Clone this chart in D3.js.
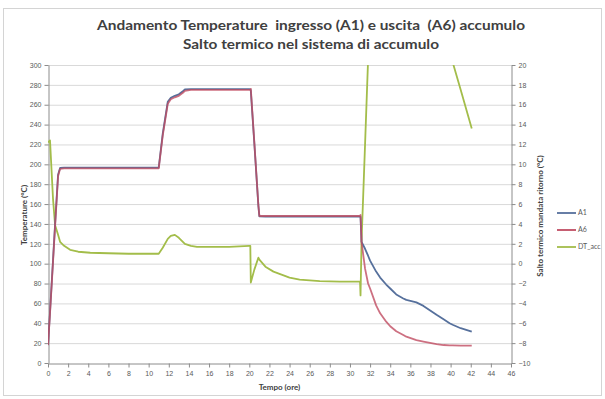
<!DOCTYPE html>
<html>
<head>
<meta charset="utf-8">
<script src="https://cdn.jsdelivr.net/npm/d3@7"></script>
<style>
  html, body { margin: 0; padding: 0; background: #fff; }
  svg { display: block; font-family: "Lato", "Open Sans", sans-serif; }
  .title text { white-space: pre; }
</style>
</head>
<body>
<svg id="chart" width="605" height="399"></svg>
<script>
// Sampling times (hours) shared by all three series
const hours = [0, 0.2, 0.5, 0.7, 1.0, 1.2, 1.6, 2.2, 3, 4.2, 6, 8, 10, 11.0, 11.4, 11.9, 12.2, 12.6, 13.0, 13.4, 13.6, 14.2, 14.8, 16, 18, 20.0, 20.1, 20.15, 20.5, 20.9, 21.0, 21.6, 22.4, 23.2, 24.0, 25.0, 27, 29, 31.0, 31.05, 31.15, 31.5, 31.8, 32.0, 32.6, 33.0, 33.6, 34.0, 34.6, 35.3, 35.6, 36.6, 37.3, 38.6, 39.3, 39.9, 40.2, 41.0, 42.1];

// Inlet temperature A1 (°C)
const a1 = [18, 51.5, 104, 139, 189.5, 196.3, 196.6, 196.6, 196.6, 196.6, 196.6, 196.6, 196.6, 196.6, 231, 263, 267, 269, 270.5, 273.5, 275.5, 275.7, 275.7, 275.7, 275.7, 275.7, 275.5, 274, 221, 158.5, 147.6, 147.5, 147.5, 147.5, 147.5, 147.5, 147.5, 147.5, 147.5, 147, 122, 115, 108, 103, 92, 86, 79, 75, 69, 65, 63.5, 61, 57.5, 48.5, 44, 40, 38.5, 35, 31.5];

// Outlet temperature A6 (°C)
const a6 = [18, 50, 102, 137, 188, 195.5, 196, 196, 196, 196, 196, 196, 196, 196, 229, 261, 265.5, 267.5, 269, 272, 274, 275, 275, 275, 275, 275, 275, 276, 222, 159, 148, 148, 148, 148, 148, 148, 148, 148, 148, 149, 122, 95, 80, 75, 58, 50, 41.6, 37, 32, 28.2, 26.5, 23, 21.5, 19, 18.1, 17.8, 17.7, 17.5, 17.4];

// Temperature difference across the storage, DT_acc (°C, secondary axis)
const dtAcc = [12.2, 12.4, 6.5, 3.9, 2.9, 2.2, 1.8, 1.4, 1.2, 1.1, 1.05, 1.0, 1.0, 1.0, 1.6, 2.5, 2.8, 2.9, 2.6, 2.2, 2.0, 1.8, 1.7, 1.7, 1.7, 1.8, 1.8, -1.9, -0.6, 0.6, 0.4, -0.3, -0.8, -1.1, -1.4, -1.6, -1.75, -1.8, -1.8, -3.2, 2.2, 12, 20.5, 24, 31, 34, 37, 38, 37.5, 37, 36.5, 34, 33, 29, 25.5, 22, 20.3, 17.5, 13.6];

// Axis tick values
const xTicks = d3.range(0, 47, 2);
const leftTicks = d3.range(0, 301, 20);
const rightTicks = d3.range(-10, 21, 2);

const seriesNames = ["A1", "A6", "DT_acc"];
const seriesColors = ["#56709c", "#c04c62", "#a3bd4a"];

const svg = d3.select("#chart");

// chart area frame
svg.append("rect")
  .attr("x", 3.5).attr("y", 8.5).attr("width", 598).attr("height", 387)
  .attr("fill", "#fff").attr("stroke", "#d4d4d4");

const plot = { left: 48, right: 511, top: 65, bottom: 363 };

const x = d3.scaleLinear().domain([0, 46]).range([plot.left, plot.right]);
const yL = d3.scaleLinear().domain([0, 300]).range([plot.bottom, plot.top]);
const yR = d3.scaleLinear().domain([-10, 20]).range([plot.bottom, plot.top]);

// horizontal gridlines
svg.append("g")
  .selectAll("line")
  .data(leftTicks.filter(d => d > 0))
  .join("line")
  .attr("x1", plot.left).attr("x2", plot.right)
  .attr("y1", d => yL(d) + 0.5).attr("y2", d => yL(d) + 0.5)
  .attr("stroke", "#d9d9d9").attr("stroke-width", 1);

// axes
function styleAxis(g) {
  g.selectAll("path.domain").attr("stroke", "#8c8c8c");
  g.selectAll(".tick line").attr("stroke", "#8c8c8c");
  g.selectAll("text").attr("fill", "#595959").attr("font-size", 7);
}

svg.append("g")
  .attr("transform", `translate(${plot.left + 0.5},0)`)
  .call(d3.axisLeft(yL).tickValues(leftTicks).tickSize(4).tickSizeOuter(0).tickPadding(3))
  .call(styleAxis);

svg.append("g")
  .attr("transform", `translate(${plot.right + 0.5},0)`)
  .call(d3.axisRight(yR).tickValues(rightTicks).tickSize(4).tickSizeOuter(0).tickPadding(3))
  .call(styleAxis);

svg.append("g")
  .attr("transform", `translate(0,${plot.bottom + 0.5})`)
  .call(d3.axisBottom(x).tickValues(xTicks).tickSize(4).tickSizeOuter(0).tickPadding(4))
  .call(styleAxis);

// clip the series to the plot area
svg.append("clipPath").attr("id", "plotClip")
  .append("rect")
  .attr("x", plot.left).attr("y", plot.top)
  .attr("width", plot.right - plot.left).attr("height", plot.bottom - plot.top);

const lines = svg.append("g").attr("clip-path", "url(#plotClip)");

const lineLeft = d3.line().x((d, i) => x(hours[i])).y(d => yL(d));
const lineRight = d3.line().x((d, i) => x(hours[i])).y(d => yR(d));

lines.append("path").datum(dtAcc)
  .attr("d", lineRight).attr("fill", "none")
  .attr("stroke", seriesColors[2]).attr("stroke-width", 1.8).attr("stroke-linejoin", "round");

lines.append("path").datum(a1)
  .attr("d", lineLeft).attr("fill", "none")
  .attr("stroke", seriesColors[0]).attr("stroke-width", 1.8).attr("stroke-linejoin", "round");

lines.append("path").datum(a6)
  .attr("d", lineLeft).attr("fill", "none")
  .attr("stroke", seriesColors[1]).attr("stroke-width", 1.8).attr("stroke-linejoin", "round")
  .attr("stroke-opacity", 0.8);

// titles
const title = svg.append("g").attr("class", "title")
  .attr("font-weight", "bold").attr("fill", "#404040")
  .attr("text-anchor", "middle");
title.append("text").attr("x", 311).attr("y", 30).attr("font-size", 13)
  .attr("textLength", 428).attr("lengthAdjust", "spacingAndGlyphs")
  .text("Andamento Temperature  ingresso (A1) e uscita  (A6) accumulo");
title.append("text").attr("x", 311).attr("y", 49).attr("font-size", 13)
  .attr("textLength", 256).attr("lengthAdjust", "spacingAndGlyphs")
  .text("Salto termico nel sistema di accumulo");

// axis titles
svg.append("text")
  .attr("transform", `translate(27,${(plot.top + plot.bottom) / 2 + 1}) rotate(-90)`)
  .attr("text-anchor", "middle").attr("font-size", 8).attr("font-weight", "bold")
  .attr("fill", "#404040")
  .text("Temperature (°C)");

svg.append("text")
  .attr("transform", `translate(543,216) rotate(-90)`)
  .attr("text-anchor", "middle").attr("font-size", 8).attr("font-weight", "bold")
  .attr("fill", "#404040")
  .text("Salto termico mandata ritorno (°C)");

svg.append("text")
  .attr("x", (plot.left + plot.right) / 2).attr("y", 390)
  .attr("text-anchor", "middle").attr("font-size", 8).attr("font-weight", "bold")
  .attr("fill", "#404040")
  .text("Tempo (ore)");

// legend
const legend = svg.append("g")
  .selectAll("g")
  .data(seriesNames)
  .join("g")
  .attr("transform", (d, i) => `translate(557,${213 + i * 17})`);
legend.append("line")
  .attr("x1", 0).attr("x2", 19).attr("y1", 0).attr("y2", 0)
  .attr("stroke", (d, i) => seriesColors[i]).attr("stroke-width", 1.8);
legend.append("text")
  .attr("x", 21).attr("dy", "0.35em").attr("font-size", 7).attr("fill", "#595959")
  .text(d => d);
</script>
</body>
</html>
